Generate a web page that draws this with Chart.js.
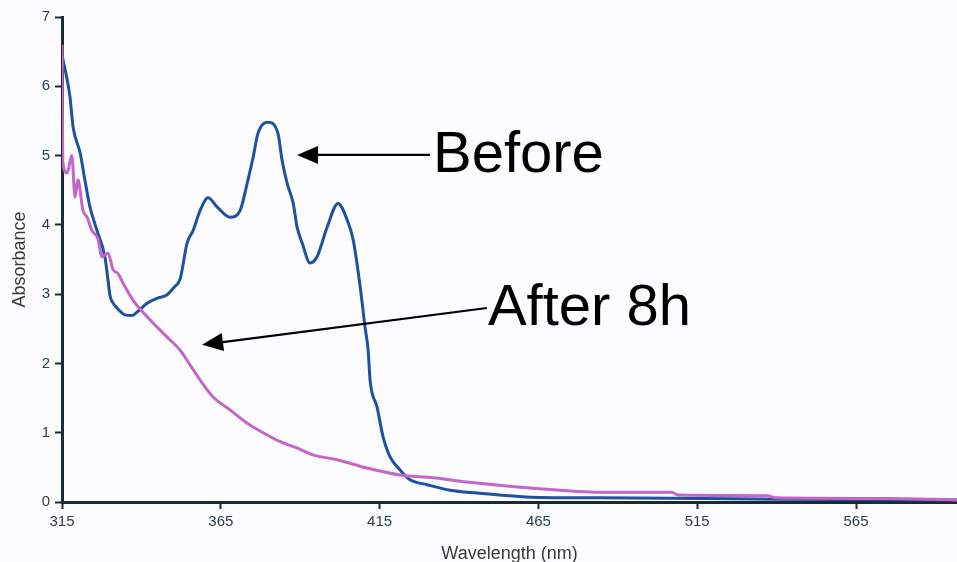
<!DOCTYPE html>
<html><head><meta charset="utf-8">
<script src="https://cdn.jsdelivr.net/npm/chart.js@4/dist/chart.umd.min.js"></script>
<style>html,body{margin:0;padding:0;background:#fcfcfe;}#wrap{width:957px;height:562px;position:relative;}</style>
</head><body><div id="wrap"><canvas id="c" width="957" height="562"></canvas></div>
<script>
const xTicks = [315, 365, 415, 465, 515, 565];
const yTicks = [0, 1, 2, 3, 4, 5, 6, 7];

const beforeWl  = [315.0,316.6,317.5,318.5,320.7,322.2,323.8,326.0,328.5,329.5,330.1,331.1,332.3,334.8,337.0,338.6,341.8,344.9,348.1,350.3,352.2,354.4,356.3,358.5,361.0,363.8,367.9,371.1,373.3,375.2,376.7,379.9,383.0,384.3,385.9,387.8,389.0,390.6,393.1,395.3,398.5,401.9,404.8,406.7,408.9,410.4,411.4,412.0,414.2,416.1,418.3,421.5,424.6,430.0,437.2,445.7,462.4,484.4,516.0,540.0,566.3,596.8];
const beforeAbs = [6.45,6.10,5.85,5.41,5.04,4.65,4.26,3.92,3.54,3.20,2.98,2.87,2.80,2.70,2.69,2.74,2.87,2.94,2.99,3.10,3.22,3.74,3.92,4.21,4.39,4.26,4.11,4.21,4.60,4.98,5.32,5.48,5.32,4.93,4.60,4.31,3.97,3.74,3.45,3.54,3.97,4.31,4.07,3.78,3.10,2.53,2.19,1.76,1.37,0.94,0.65,0.46,0.32,0.25,0.17,0.13,0.07,0.06,0.05,0.04,0.035,0.03];

const afterWl  = [315.0,315.1,315.3,316.6,318.1,319.1,320.0,321.6,322.9,324.4,326.3,327.6,329.5,331.1,332.6,334.2,337.4,342.7,348.1,352.2,355.3,358.5,362.5,367.9,373.2,378.3,383.7,389.0,394.0,401.6,411.0,421.4,431.8,442.5,463.3,484.4,507.0,509.0,537.0,540.0,575.0,596.8];
const afterAbs = [6.60,5.70,4.89,4.75,5.00,4.40,4.65,4.21,4.11,3.92,3.80,3.54,3.59,3.35,3.30,3.16,2.91,2.63,2.38,2.19,1.98,1.76,1.52,1.33,1.14,1.00,0.87,0.78,0.68,0.61,0.49,0.39,0.35,0.29,0.20,0.14,0.14,0.10,0.09,0.06,0.05,0.03];

const noteTexts = ['Before', 'After 8h'];
const noteTail  = [[430.9, 5.01], [448.8, 2.80]];
const noteTip   = [[389.0, 5.01], [359.1, 2.27]];
const noteText  = [[431.8, 4.76], [449.1, 2.55]];

const toPts = (xs, ys) => xs.map((x, i) => ({x: x, y: ys[i]}));
const dark = '#1b2a32';
const tickCol = '#2d3d4a';
const fam = '"Liberation Sans", Arial, sans-serif';

const notes = {
  id: 'notes',
  afterDatasetsDraw(chart) {
    const ctx = chart.ctx, sx = chart.scales.x, sy = chart.scales.y;
    ctx.save();
    for (let i = 0; i < noteTexts.length; i++) {
      const x1 = sx.getPixelForValue(noteTail[i][0]), y1 = sy.getPixelForValue(noteTail[i][1]);
      const x2 = sx.getPixelForValue(noteTip[i][0]),  y2 = sy.getPixelForValue(noteTip[i][1]);
      const ang = Math.atan2(y2 - y1, x2 - x1);
      const hl = 21, hw = 9;
      const bx = x2 - hl * Math.cos(ang), by = y2 - hl * Math.sin(ang);
      ctx.strokeStyle = '#000'; ctx.lineWidth = 2.2;
      ctx.beginPath(); ctx.moveTo(x1, y1); ctx.lineTo(bx, by); ctx.stroke();
      ctx.fillStyle = '#000';
      ctx.beginPath();
      ctx.moveTo(x2, y2);
      ctx.lineTo(bx + hw * Math.sin(ang), by - hw * Math.cos(ang));
      ctx.lineTo(bx - hw * Math.sin(ang), by + hw * Math.cos(ang));
      ctx.closePath(); ctx.fill();
      ctx.font = '58px ' + fam;
      ctx.textAlign = 'left'; ctx.textBaseline = 'alphabetic';
      ctx.fillText(noteTexts[i], sx.getPixelForValue(noteText[i][0]), sy.getPixelForValue(noteText[i][1]));
    }
    ctx.restore();
  }
};

new Chart(document.getElementById('c'), {
  type: 'line',
  data: {
    datasets: [
      {label: 'After 8h', data: toPts(afterWl, afterAbs), borderColor: '#c266c8', borderWidth: 3, pointRadius: 0, cubicInterpolationMode: 'monotone', fill: false},
      {label: 'Before', data: toPts(beforeWl, beforeAbs), borderColor: '#1d52a0', borderWidth: 3, pointRadius: 0, cubicInterpolationMode: 'monotone', fill: false}
    ]
  },
  options: {
    responsive: false, animation: false, devicePixelRatio: 1,
    layout: {padding: {top: 17, right: 0, left: 0, bottom: 0}},
    plugins: {legend: {display: false}, tooltip: {enabled: false}},
    scales: {
      x: {
        type: 'linear', min: 315, max: 596.8,
        afterBuildTicks: s => { s.ticks = xTicks.map(v => ({value: v})); },
        afterFit: s => { s.height = 60; },
        grid: {display: true, drawOnChartArea: false, drawTicks: true, tickLength: 7, tickColor: dark, tickWidth: 2},
        border: {display: true, color: dark, width: 3},
        ticks: {color: tickCol, font: {family: fam, size: 15}, padding: 4, maxRotation: 0, autoSkip: false},
        title: {display: true, text: 'Wavelength (nm)', color: '#3a3a3a', font: {family: fam, size: 18}, padding: {top: 0, bottom: -3}}
      },
      y: {
        min: 0, max: 7,
        afterBuildTicks: s => { s.ticks = yTicks.map(v => ({value: v})); },
        afterFit: s => { s.width = 62; },
        grid: {display: true, drawOnChartArea: false, drawTicks: true, tickLength: 7, tickColor: dark, tickWidth: 2},
        border: {display: true, color: dark, width: 3},
        ticks: {color: tickCol, font: {family: fam, size: 15}, padding: 5},
        title: {display: true, text: 'Absorbance', color: '#3a3a3a', font: {family: fam, size: 18}, padding: {top: 9, bottom: 0}}
      }
    }
  },
  plugins: [notes]
});
</script></body></html>
